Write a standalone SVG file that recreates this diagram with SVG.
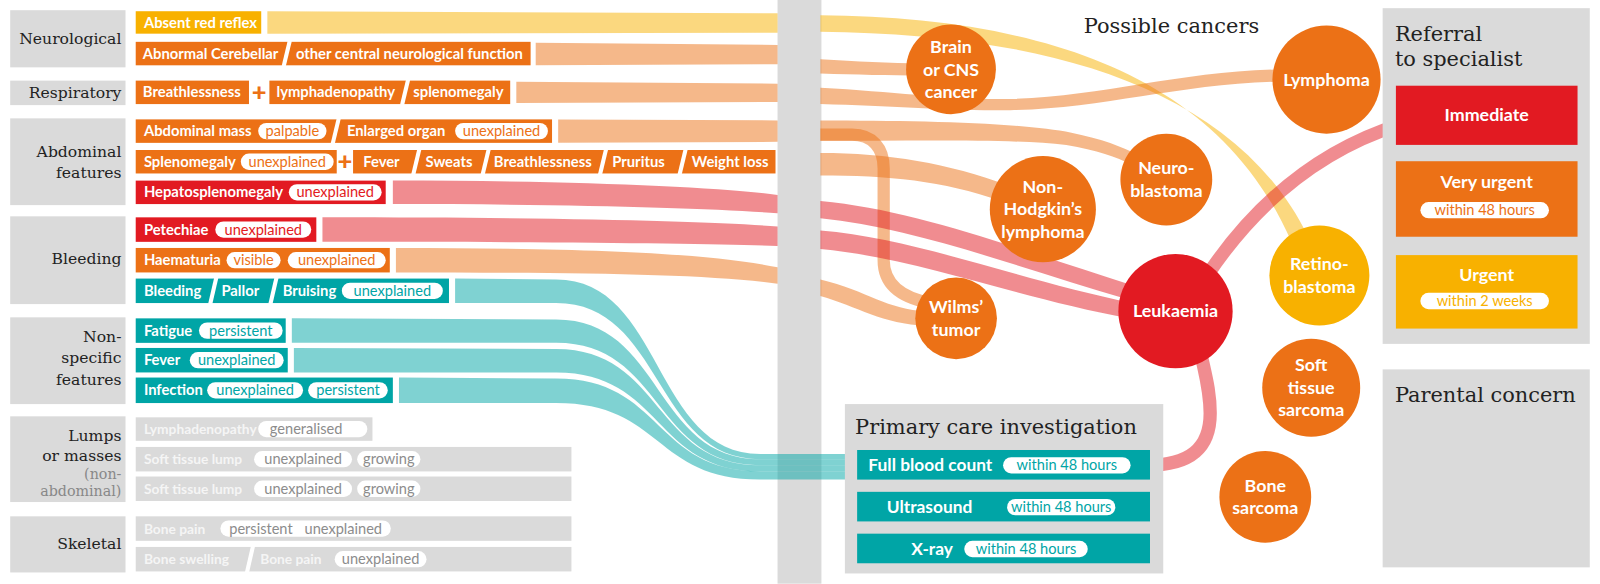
<svg xmlns="http://www.w3.org/2000/svg" width="1600" height="584" viewBox="0 0 1600 584">
<style>
.cat{font-family:"DejaVu Serif","Liberation Serif",serif;font-size:15.3px;fill:#222;text-anchor:end}
.cats{font-family:"DejaVu Serif","Liberation Serif",serif;font-size:14px;fill:#888;text-anchor:end}
.hd{font-family:"DejaVu Serif","Liberation Serif",serif;font-size:20.5px;fill:#222}
.lbl{font-family:Lato,"Liberation Sans",sans-serif;font-weight:700;font-size:14.5px;fill:#fff}
.glbl{font-family:Lato,"Liberation Sans",sans-serif;font-weight:700;font-size:13.5px;fill:#f5f5f5}
.pt{font-family:Lato,"Liberation Sans",sans-serif;font-size:14.3px;text-anchor:middle}
.ct{font-family:Lato,"Liberation Sans",sans-serif;font-weight:700;font-size:17.5px;fill:#fff;text-anchor:middle}
.bt{font-family:Lato,"Liberation Sans",sans-serif;font-weight:700;font-size:17px;fill:#fff}
.plus{font-family:Lato,"Liberation Sans",sans-serif;font-weight:900;font-size:25px;fill:#ec7116;text-anchor:middle}
.o{fill:#ec7116}.r{fill:#e21a22}.y{fill:#f8b100}.t{fill:#00a5a6}.g{fill:#dadada}.w{fill:#fff}
.to{fill:#ec7116}.tr{fill:#e21a22}.ty{fill:#f8b100}.tt{fill:#00a5a6}.tg{fill:#8c8c8c}
.sl{stroke:#fff;stroke-width:4}
.fo{fill:#ec7116;opacity:.5}.fr{fill:#e21a22;opacity:.5}.fy{fill:#f8b100;opacity:.5}.ft{fill:#00a5a6;opacity:.5}
.so{fill:none;stroke:#ec7116;stroke-width:12;opacity:.5}.sr{fill:none;stroke:#e21a22;stroke-width:13;opacity:.5}
</style>
<g transform="scale(1.0204)">

<!-- category nodes -->
<g id="cat-neurological"><rect class="g" x="10" y="10" width="113" height="56"/><text class="cat" x="119" y="43">Neurological</text></g>
<g id="cat-respiratory"><rect class="g" x="10" y="79" width="113" height="24"/><text class="cat" x="119" y="96.5">Respiratory</text></g>
<g id="cat-abdominal"><rect class="g" x="10" y="116" width="113" height="85"/><text class="cat" x="119" y="154">Abdominal</text><text class="cat" x="119" y="174">features</text></g>
<g id="cat-bleeding"><rect class="g" x="10" y="212" width="113" height="86"/><text class="cat" x="119" y="259">Bleeding</text></g>
<g id="cat-nonspecific"><rect class="g" x="10" y="311" width="113" height="85"/><text class="cat" x="119" y="335">Non-</text><text class="cat" x="119" y="356">specific</text><text class="cat" x="119" y="377">features</text></g>
<g id="cat-lumps"><rect class="g" x="10" y="408" width="113" height="84"/><text class="cat" x="119" y="432">Lumps</text><text class="cat" x="119" y="452">or masses</text><text class="cats" x="119" y="469">(non-</text><text class="cats" x="119" y="486">abdominal)</text></g>
<g id="cat-skeletal"><rect class="g" x="10" y="506" width="113" height="55"/><text class="cat" x="119" y="538">Skeletal</text></g>

<!-- divider bar -->
<rect id="divider" class="g" x="762" y="0" width="43" height="572"/>

<!-- connectors -->
<g id="connectors">
<path id="f-absent" class="fy" d="M262,11 L762,13 L762,32 L262,33 Z M804,15 C1000,17 1190,62 1266,238 L1282,232 C1205,74 1000,33 804,31 Z"/>
<path id="f-cerebellar" class="fo" d="M525,42 L762,44 L762,63 L525,64 Z M804,58 C840,60 870,62 905,62 L905,74 C870,74 840,73 804,72 Z"/>
<path id="f-resp" class="fo" d="M506,80 L762,82 L762,100 L506,101 Z M804,86 C880,90 930,98 990,97 C1080,95 1160,69 1258,68 L1258,80 C1160,81 1080,107 990,108 C930,109 880,104 804,102 Z"/>
<path id="f-abdominal" class="fo" d="M547,117 L762,118 L762,139 L547,140 Z M804,118 C900,118 1000,120 1050,130 C1080,136 1100,144 1114,151 L1108,161 C1095,154 1075,147 1045,142 C990,136 900,138 804,138 Z"/>
<path id="f-abdominal-wilms" class="so" d="M804,132 L835,132 C855,132 866,145 866,165 L866,255 C866,280 885,292 912,297"/>
<path id="f-spleno" class="fo" d="M804,150 C870,150 930,160 988,182 L980,197 C925,177 870,172 804,172 Z"/>
<path id="f-hepato" class="fr" d="M385,177 C560,177 700,183 762,191 L762,209 C700,204 560,200 385,200 Z M804,197 C900,206 1000,245 1108,279 L1104,293 C1000,263 900,224 804,214 Z"/>
<path id="f-petechiae" class="fr" d="M316,213 C560,213 700,217 762,222 L762,241 C700,239 560,237 316,237 Z M804,226 C900,234 1000,275 1110,297 L1108,312 C1000,293 900,253 804,244 Z"/>
<path id="f-haematuria" class="fo" d="M388,243 C560,243 690,247 762,262 L762,278 C690,268 560,267 388,267 Z M804,274 C850,285 870,304 908,305 L908,319 C865,318 840,300 804,290 Z"/>
<path id="f-bleeding" class="ft" d="M446,273 L545,274 C650,274 640,445 745,445 L845,445 L845,450 L745,450 C640,450 650,297 545,297 L446,297 Z"/>
<path id="f-fatigue" class="ft" d="M286,312 L545,313 C650,313 640,450 745,450 L845,450 L845,456 L745,456 C640,456 650,336 545,336 L286,336 Z"/>
<path id="f-fever" class="ft" d="M288,341 L545,342 C650,342 640,456 745,456 L845,456 L845,462 L745,462 C640,462 650,365 545,365 L288,365 Z"/>
<path id="f-infection" class="ft" d="M391,370 L545,371 C650,371 640,462 745,462 L845,462 L845,470 L745,470 C640,470 650,395 545,395 L391,395 Z"/>
<path id="f-fbc-leuk" class="sr" d="M1124,456 C1165,456 1186,440 1186,405 C1186,385 1182,370 1178,352"/>
<path id="f-leuk-imm" class="sr" d="M1183,270 C1230,200 1290,148 1372,122"/>
</g>

<!-- symptom rows -->
<g id="row-absent"><rect class="y" x="133" y="11" width="123" height="22"/><text class="lbl" x="141" y="27">Absent red reflex</text></g>
<g id="row-cerebellar"><rect class="o" x="133" y="41" width="387" height="23"/><line class="sl" x1="284" y1="40" x2="278" y2="65"/><text class="lbl" x="140" y="57.5">Abnormal Cerebellar</text><text class="lbl" x="290" y="57.5">other central neurological function</text></g>
<g id="row-resp"><rect class="o" x="133" y="79" width="111" height="23"/><text class="lbl" x="140" y="95.5">Breathlessness</text><text class="plus" x="254" y="99">+</text><rect class="o" x="264" y="79" width="236" height="23"/><line class="sl" x1="400" y1="78" x2="394" y2="103"/><text class="lbl" x="271" y="95.5">lymphadenopathy</text><text class="lbl" x="405" y="95.5">splenomegaly</text></g>
<g id="row-abdmass"><rect class="o" x="133" y="117" width="408" height="23"/><line class="sl" x1="332" y1="116" x2="326" y2="141"/><text class="lbl" x="141" y="133.5">Abdominal mass</text><rect class="w" x="253" y="120.5" width="67" height="16" rx="8"/><text class="pt to" x="286.5" y="133.5">palpable</text><text class="lbl" x="340" y="133.5">Enlarged organ</text><rect class="w" x="446" y="120.5" width="91" height="16" rx="8"/><text class="pt to" x="491.5" y="133.5">unexplained</text></g>
<g id="row-spleno"><rect class="o" x="133" y="147" width="197" height="23"/><text class="lbl" x="141" y="163.5">Splenomegaly</text><rect class="w" x="236" y="150.5" width="91" height="16" rx="8"/><text class="pt to" x="281.5" y="163.5">unexplained</text><text class="plus" x="338" y="167">+</text><rect class="o" x="346" y="147" width="414" height="23"/><line class="sl" x1="411" y1="146" x2="405" y2="171"/><line class="sl" x1="479" y1="146" x2="473" y2="171"/><line class="sl" x1="594" y1="146" x2="588" y2="171"/><line class="sl" x1="672" y1="146" x2="666" y2="171"/><text class="lbl" x="356" y="163.5">Fever</text><text class="lbl" x="417" y="163.5">Sweats</text><text class="lbl" x="484" y="163.5">Breathlessness</text><text class="lbl" x="600" y="163.5">Pruritus</text><text class="lbl" x="678" y="163.5">Weight loss</text></g>
<g id="row-hepato"><rect class="r" x="133" y="177" width="245" height="23"/><text class="lbl" x="141" y="193.5">Hepatosplenomegaly</text><rect class="w" x="283" y="180.5" width="91" height="16" rx="8"/><text class="pt tr" x="328.5" y="193.5">unexplained</text></g>
<g id="row-petechiae"><rect class="r" x="133" y="213" width="177" height="24"/><text class="lbl" x="141" y="230">Petechiae</text><rect class="w" x="211" y="217" width="94" height="16" rx="8"/><text class="pt tr" x="258" y="230">unexplained</text></g>
<g id="row-haematuria"><rect class="o" x="133" y="243" width="249" height="24"/><text class="lbl" x="141" y="260">Haematuria</text><rect class="w" x="222" y="247" width="53" height="16" rx="8"/><text class="pt to" x="248.5" y="260">visible</text><rect class="w" x="282" y="247" width="96" height="16" rx="8"/><text class="pt to" x="330" y="260">unexplained</text></g>
<g id="row-bleeding"><rect class="t" x="133" y="273" width="307" height="24"/><line class="sl" x1="212" y1="272" x2="206" y2="298"/><line class="sl" x1="271" y1="272" x2="265" y2="298"/><text class="lbl" x="141" y="290">Bleeding</text><text class="lbl" x="217" y="290">Pallor</text><text class="lbl" x="277" y="290">Bruising</text><rect class="w" x="335" y="277" width="99" height="16" rx="8"/><text class="pt tt" x="384.5" y="290">unexplained</text></g>
<g id="row-fatigue"><rect class="t" x="133" y="312" width="147" height="24"/><text class="lbl" x="141" y="329">Fatigue</text><rect class="w" x="195" y="316" width="82" height="16" rx="8"/><text class="pt tt" x="236" y="329">persistent</text></g>
<g id="row-fever"><rect class="t" x="133" y="341" width="149" height="24"/><text class="lbl" x="141" y="358">Fever</text><rect class="w" x="186" y="345" width="92" height="16" rx="8"/><text class="pt tt" x="232" y="358">unexplained</text></g>
<g id="row-infection"><rect class="t" x="133" y="370" width="252" height="25"/><text class="lbl" x="141" y="387.5">Infection</text><rect class="w" x="203" y="374.5" width="94" height="16" rx="8"/><text class="pt tt" x="250" y="387.5">unexplained</text><rect class="w" x="302" y="374.5" width="78" height="16" rx="8"/><text class="pt tt" x="341" y="387.5">persistent</text></g>
<g id="row-lymph"><rect class="g" x="133" y="409" width="232" height="23"/><text class="glbl" x="141" y="425.5">Lymphadenopathy</text><rect class="w" x="253" y="412.5" width="107" height="16" rx="8"/><text class="pt tg" x="300" y="425.5">generalised</text></g>
<g id="row-softtissue1"><rect class="g" x="133" y="438" width="427" height="24"/><text class="glbl" x="141" y="455">Soft tissue lump</text><rect class="w" x="249" y="442" width="96" height="16" rx="8"/><text class="pt tg" x="297" y="455">unexplained</text><rect class="w" x="350" y="442" width="62" height="16" rx="8"/><text class="pt tg" x="381" y="455">growing</text></g>
<g id="row-softtissue2"><rect class="g" x="133" y="467" width="427" height="24"/><text class="glbl" x="141" y="484">Soft tissue lump</text><rect class="w" x="249" y="471" width="96" height="16" rx="8"/><text class="pt tg" x="297" y="484">unexplained</text><rect class="w" x="350" y="471" width="62" height="16" rx="8"/><text class="pt tg" x="381" y="484">growing</text></g>
<g id="row-bonepain"><rect class="g" x="133" y="506" width="427" height="24"/><text class="glbl" x="141" y="523">Bone pain</text><rect class="w" x="216" y="510" width="167" height="16" rx="8"/><text class="pt tg" x="299.5" y="523" style="word-spacing:8px">persistent unexplained</text></g>
<g id="row-boneswelling"><rect class="g" x="133" y="536" width="427" height="24"/><line class="sl" x1="248" y1="535" x2="242" y2="561"/><text class="glbl" x="141" y="553">Bone swelling</text><text class="glbl" x="255" y="553">Bone pain</text><rect class="w" x="328" y="540" width="90" height="16" rx="8"/><text class="pt tg" x="373" y="553">unexplained</text></g>

<!-- possible cancers -->
<text id="title-cancers" class="hd" x="1062" y="32">Possible cancers</text>
<g id="c-brain"><circle class="o" cx="932" cy="68" r="44"/><text class="ct" x="932" y="52">Brain</text><text class="ct" x="932" y="74">or CNS</text><text class="ct" x="932" y="96">cancer</text></g>
<g id="c-lymphoma"><circle class="o" cx="1300" cy="78" r="53"/><text class="ct" x="1300" y="84">Lymphoma</text></g>
<g id="c-neuro"><circle class="o" cx="1143" cy="176" r="45"/><text class="ct" x="1143" y="171">Neuro-</text><text class="ct" x="1143" y="193">blastoma</text></g>
<g id="c-nhl"><circle class="o" cx="1022" cy="205" r="52"/><text class="ct" x="1022" y="189">Non-</text><text class="ct" x="1022" y="211">Hodgkin’s</text><text class="ct" x="1022" y="233">lymphoma</text></g>
<g id="c-wilms"><circle class="o" cx="937" cy="312" r="40"/><text class="ct" x="937" y="307">Wilms’</text><text class="ct" x="937" y="329">tumor</text></g>
<g id="c-leukaemia"><circle class="r" cx="1152" cy="305" r="56"/><text class="ct" x="1152" y="311">Leukaemia</text></g>
<g id="c-retino"><circle class="y" cx="1293" cy="270" r="49"/><text class="ct" x="1293" y="265">Retino-</text><text class="ct" x="1293" y="287">blastoma</text></g>
<g id="c-softtissue"><circle class="o" cx="1285" cy="380" r="48"/><text class="ct" x="1285" y="364">Soft</text><text class="ct" x="1285" y="386">tissue</text><text class="ct" x="1285" y="408">sarcoma</text></g>
<g id="c-bone"><circle class="o" cx="1240" cy="487" r="45"/><text class="ct" x="1240" y="482">Bone</text><text class="ct" x="1240" y="504">sarcoma</text></g>

<!-- primary care -->
<g id="primary-care"><rect class="g" x="828" y="396" width="312" height="166"/><text class="hd" x="838" y="425">Primary care investigation</text></g>
<g id="pc-fbc"><rect class="t" x="840" y="441" width="287" height="29"/><text class="bt" x="851" y="461.5">Full blood count</text><rect class="w" x="983" y="448" width="125" height="16" rx="8"/><text class="pt tt" x="1045.5" y="461">within 48 hours</text></g>
<g id="pc-ultrasound"><rect class="t" x="840" y="482" width="287" height="29"/><text class="bt" x="869" y="502.5">Ultrasound</text><rect class="w" x="987" y="489" width="106" height="16" rx="8"/><text class="pt tt" x="1040" y="502">within 48 hours</text></g>
<g id="pc-xray"><rect class="t" x="840" y="523" width="287" height="29"/><text class="bt" x="893" y="543.5">X-ray</text><rect class="w" x="945" y="530" width="121" height="16" rx="8"/><text class="pt tt" x="1005.5" y="543">within 48 hours</text></g>

<!-- referral -->
<g id="referral"><rect class="g" x="1355" y="8" width="203" height="329"/><text class="hd" x="1367" y="40">Referral</text><text class="hd" x="1367" y="65">to specialist</text></g>
<g id="ref-immediate"><rect class="r" x="1368" y="84" width="178" height="58"/><text class="ct" x="1457" y="119">Immediate</text></g>
<g id="ref-veryurgent"><rect class="o" x="1368" y="158" width="178" height="74"/><text class="ct" x="1457" y="184">Very urgent</text><rect class="w" x="1392" y="198" width="126" height="16" rx="8"/><text class="pt to" x="1455" y="211">within 48 hours</text></g>
<g id="ref-urgent"><rect class="y" x="1368" y="250" width="178" height="72"/><text class="ct" x="1457" y="275">Urgent</text><rect class="w" x="1392" y="287" width="126" height="16" rx="8"/><text class="pt ty" x="1455" y="300">within 2 weeks</text></g>
<g id="parental"><rect class="g" x="1355" y="362" width="203" height="194"/><text class="hd" x="1367" y="394">Parental concern</text></g>
</g>
</svg>
